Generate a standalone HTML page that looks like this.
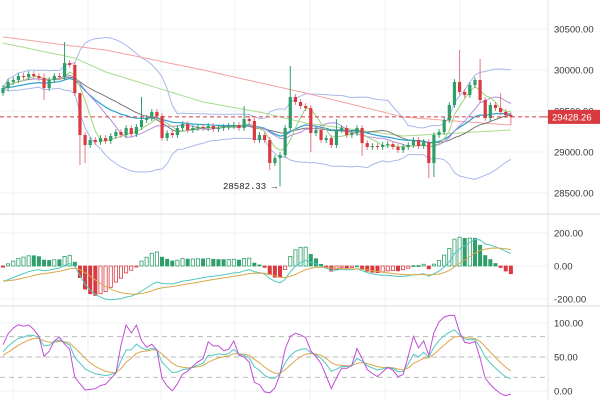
<!DOCTYPE html>
<html><head><meta charset="utf-8">
<style>
html,body{margin:0;padding:0;background:#fff;}
svg{display:block;font-family:"Liberation Sans",sans-serif;}
</style></head>
<body>
<svg id="chart" width="600" height="400" viewBox="0 0 600 400" xmlns="http://www.w3.org/2000/svg"></svg>
<script>
const closes=[29780,29854,29878,29927,29915,29951,29927,29902,29780,29878,29927,29915,30085,30061,29719,29207,29085,29146,29122,29170,29134,29195,29244,29207,29292,29219,29305,29390,29414,29488,29439,29170,29231,29207,29292,29341,29268,29292,29305,29292,29317,29280,29292,29305,29317,29329,29292,29402,29378,29146,29207,29146,28865,28926,28963,29292,29671,29610,29561,29536,29231,29268,29146,29170,29085,29268,29292,29207,29231,29292,29109,29061,29073,29061,29085,29097,29061,29024,29061,29085,29146,29073,29122,28865,29207,29244,29390,29573,29854,29732,29695,29817,29878,29634,29414,29573,29536,29488,29451,29428.26];
const firstOpen=29720;
const highOverrides={8:29960,12:30342,15:29300,27:29671,56:30049,89:30244,93:30134,97:29719,47:29560,65:29400};
const lowOverrides={8:29634,15:28841,16:28865,54:28582.33,52:28780,83:28682,84:28695,99:29329,60:29000,70:28950};
const longMaIdx=[0,14,20,39,59,78,88,99];
const longMaRed=[30403,30290,30244,30000,29719,29427,29378,29329];
const midMaIdx=[0,14,20,39,51,59,78,99];
const midMaGreen=[30329,30146,29976,29610,29475,29353,29195,29268];
const priceTicks=[30500,30000,29500,29000,28500];
const macdTicks=[200,0,-200];
const kdjTicks=[100,50,0];
const kdjDashed=[80,50,20];
const lastPrice=29428.26;
const lowLabel="28582.33";
const ema12Seed=29800, ema26Seed=29900, deaSeed=-90;

const svg=document.getElementById('chart');
const NS='http://www.w3.org/2000/svg';
function mk(tag,attrs,parent){const e=document.createElementNS(NS,tag);for(const k in attrs)e.setAttribute(k,attrs[k]);(parent||svg).appendChild(e);return e;}
const PLOT_R=548;
const xAt=i=>3+i*5.13;
const yP=p=>70+(30000-p)*0.082;
const yM=v=>266-v*0.165;
const yK=v=>391-v*0.68;
const N=closes.length;
const opens=closes.map((c,i)=>i===0?firstOpen:closes[i-1]);
const highs=closes.map((c,i)=>highOverrides[i]!==undefined?highOverrides[i]:Math.max(c,opens[i])+35);
const lows=closes.map((c,i)=>lowOverrides[i]!==undefined?lowOverrides[i]:Math.min(c,opens[i])-35);

const grid=mk('g',{});


[13,88,161,235,310,385,460].forEach(x=>{mk('line',{x1:x,x2:x,y1:0,y2:400,stroke:'#eef0f3','stroke-width':1},grid);});
priceTicks.forEach(p=>mk('line',{x1:0,x2:PLOT_R,y1:yP(p),y2:yP(p),stroke:'#eef0f3'},grid));
macdTicks.forEach(v=>mk('line',{x1:0,x2:PLOT_R,y1:yM(v),y2:yM(v),stroke:'#eef0f3'},grid));
kdjTicks.forEach(v=>mk('line',{x1:0,x2:PLOT_R,y1:yK(v),y2:yK(v),stroke:'#eef0f3'},grid));
mk('line',{x1:0,x2:600,y1:214,y2:214,stroke:'#d8dbe0'},grid);
mk('line',{x1:0,x2:600,y1:306,y2:306,stroke:'#d8dbe0'},grid);
mk('line',{x1:PLOT_R,x2:PLOT_R,y1:0,y2:400,stroke:'#e0e3e8'},grid);

function sma(arr,n){return arr.map((_,i)=>{const s=arr.slice(Math.max(0,i-n+1),i+1);return s.reduce((a,b)=>a+b,0)/s.length;});}
function ema(arr,n,seed){const k=2/(n+1);let out=[];arr.forEach((v,i)=>{const prev=i===0?(seed!==undefined?seed:v):out[i-1];out.push(i===0&&seed===undefined?v:v*k+prev*(1-k));});return out;}
function line(vals,yf,color,name,xf,parent,w){const pts=vals.map((v,i)=>(xf?xf(i):xAt(i)).toFixed(1)+','+yf(v).toFixed(1)).join(' ');const l=mk('polyline',{points:pts,fill:'none',stroke:color,'stroke-width':w||1},parent);return l;}
function interp(idx,vals){const out=[];for(let i=0;i<N;i++){let j=0;while(j<idx.length-2&&i>idx[j+1])j++;const t=(i-idx[j])/(idx[j+1]-idx[j]);out.push(vals[j]+(vals[j+1]-vals[j])*t);}return out;}

const cp=mk('clipPath',{id:'cm'});
mk('rect',{x:0,y:0,width:PLOT_R,height:213},cp);
const main=mk('g',{'clip-path':'url(#cm)'});



const mid20=sma(closes,20);
const sd=closes.map((_,i)=>{const s=closes.slice(Math.max(0,i-19),i+1);const m=mid20[i];return Math.sqrt(s.reduce((a,b)=>a+(b-m)*(b-m),0)/s.length);});
line(mid20.map((m,i)=>m+2*sd[i]),yP,'#a9b8ec','boll-upper',null,main);
line(mid20.map((m,i)=>m-2*sd[i]),yP,'#a9b8ec','boll-lower',null,main);
line(interp(longMaIdx,longMaRed),yP,'#f2a2a2','ma-long-red',null,main);
line(interp(midMaIdx,midMaGreen),yP,'#a8dc8e','ma-mid-green',null,main);
line(sma(closes,20),yP,'#777','ma-20',null,main);
line(ema(closes,20),yP,'#2aa0d0','ema-20',null,main,1.2);
line(sma(closes,10),yP,'#b58ee0','ma-10',null,main);
line(sma(closes,5),yP,'#9fd27a','ma-5',null,main);

for(let i=0;i<N;i++){
 const up=closes[i]>=opens[i];const col=up?'#2e9e6a':'#d9393f';const x=xAt(i);
 const g=mk('g',{},main);
 
 
 mk('line',{x1:x,x2:x,y1:yP(highs[i]),y2:yP(lows[i]),stroke:up?'#2e9e6a':'#e07a80','stroke-width':1},g);
 const y1=yP(Math.max(opens[i],closes[i])),y2=yP(Math.min(opens[i],closes[i]));
 mk('rect',{x:x-1.6,y:y1,width:3.2,height:Math.max(1,y2-y1),fill:col},g);
}
const lp=mk('line',{x1:0,x2:PLOT_R,y1:yP(lastPrice),y2:yP(lastPrice),stroke:'#d9393f','stroke-dasharray':'4,3','stroke-width':1});


let li=0;let minL=Infinity;lows.forEach((l,i)=>{if(l<minL){minL=l;li=i;}});
const lt=mk('text',{x:xAt(li)-3,y:yP(minL)+3,'text-anchor':'end','font-size':9,fill:'#222','font-family':'Liberation Mono, monospace'});
lt.textContent=lowLabel+' →';



const e12=ema(closes,12,ema12Seed),e26=ema(closes,26,ema26Seed);
const dif=e12.map((v,i)=>v-e26[i]);
const dea=ema(dif,9,deaSeed);
const hist=dif.map((v,i)=>(v-dea[i])*2);
const macdG=mk('g',{});


hist.forEach((h,i)=>{
 const prev=i>0?hist[i-1]:0;const pos=h>=0;const hollow=h>prev;
 const col=pos?'#2e9e6a':'#d9393f';
 const y0=yM(0),y1=yM(h);
 const r=mk('rect',{x:xAt(i)-1.6,y:Math.min(y0,y1),width:3.2,height:Math.max(1,Math.abs(y1-y0)),fill:hollow?'#fff':col,stroke:col,'stroke-width':0.8},macdG);
 
 
});
line(dif,yM,'#4fc8c0','macd-dif',null,macdG);
line(dea,yM,'#d9a84a','macd-dea',null,macdG);

const K=[],D=[],J=[];let kp=50,dp=50;
for(let i=0;i<N;i++){const hh=Math.max(...highs.slice(Math.max(0,i-8),i+1)),ll=Math.min(...lows.slice(Math.max(0,i-8),i+1));const rsv=hh===ll?50:(closes[i]-ll)/(hh-ll)*100;kp=(2*kp+rsv)/3;dp=(2*dp+kp)/3;K.push(kp);D.push(dp);J.push(3*kp-2*dp);}
const ck=mk('clipPath',{id:'ck'});
mk('rect',{x:0,y:308,width:PLOT_R,height:92},ck);
const kdjG=mk('g',{'clip-path':'url(#ck)'});


kdjDashed.forEach(v=>mk('line',{x1:0,x2:PLOT_R,y1:yK(v),y2:yK(v),stroke:'#bbb','stroke-dasharray':'5,4'},kdjG));
line(D,yK,'#d9a84a','kdj-d',null,kdjG);
line(K,yK,'#4fc8c0','kdj-k',null,kdjG);
line(J,yK,'#c04fd6','kdj-j',null,kdjG);

const ax=mk('g',{});


function lab(t,y){const e=mk('text',{x:554,y:y+3.5,'font-size':9.5,fill:'#333'},ax);e.textContent=t;}
priceTicks.forEach(p=>lab(p.toFixed(2),yP(p)));
macdTicks.forEach(v=>lab(v.toFixed(2),yM(v)));
kdjTicks.forEach(v=>lab(v.toFixed(2),yK(v)));
const tagY=yP(lastPrice);
const tag=mk('rect',{x:PLOT_R,y:tagY-7,width:52,height:14,fill:'#d9393f'});


const tt=mk('text',{x:552,y:tagY+3.5,'font-size':9.5,fill:'#fff'});
tt.textContent=lastPrice.toFixed(2);


mk('line',{x1:542,x2:548,y1:tagY,y2:tagY,stroke:'#d9393f'});
</script>
</body></html>
